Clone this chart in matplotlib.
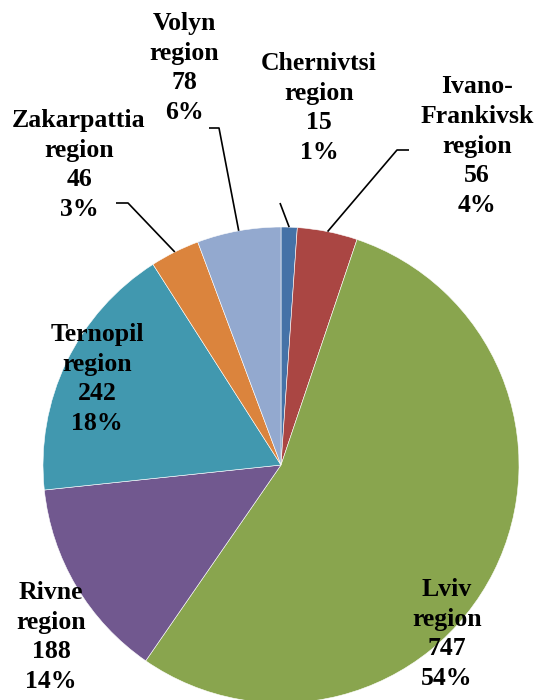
import numpy as np
import matplotlib
matplotlib.use("Agg")
import matplotlib.pyplot as plt

regions = ['Chernivtsi\nregion', 'Ivano-\nFrankivsk\nregion', 'Lviv\nregion',
           'Rivne\nregion', 'Ternopil\nregion', 'Zakarpattia\nregion', 'Volyn\nregion']
counts = [15, 56, 747, 188, 242, 46, 78]
colors = ['#4572A7', '#AA4643', '#89A54E', '#71588F', '#4198AF', '#DB843D', '#93A9CF']

# label layout in pixel space of the 537x700 picture (centre x, centre y, elbow or None)
CX, CY, R = 281, 465, 238
label_px = [
    (319, 108, None),
    (477, 146, [(409, 150), (397, 150)]),
    (447, 634, None),
    (51, 637, None),
    (97, 379, None),
    (79, 165, [(116, 203), (128, 203)]),
    (184, 68, [(209, 128), (219, 128)]),
]
# Chernivtsi leader starts just under its text
cher_start = (280, 203)


def px(x, y):
    return (x - CX) / R, (CY - y) / R


fig = plt.figure(figsize=(5.37, 7.00), dpi=100)
ax = fig.add_axes([0, 0, 1, 1])
wedges, _ = ax.pie(counts, colors=colors, startangle=90, counterclock=False,
                   radius=1.0, wedgeprops=dict(edgecolor='white', linewidth=0.4))
ax.set_aspect('auto')
ax.set_xlim(-CX / R, (537 - CX) / R)
ax.set_ylim(-(700 - CY) / R, CY / R)
ax.axis('off')

total = sum(counts)
for i, (w, name, n) in enumerate(zip(wedges, regions, counts)):
    lx, ly, elbow = label_px[i]
    pct = round(100 * n / total)
    ax.text(*px(lx, ly), f'{name}\n{n}\n{pct}%', ha='center', va='center',
            multialignment='center', family='Liberation Serif', weight='bold',
            fontsize=18.5, linespacing=1.37, color='black')
    mid = np.deg2rad((w.theta1 + w.theta2) / 2)
    end = (np.cos(mid), np.sin(mid))
    if elbow is not None:
        pts = [px(*p) for p in elbow] + [end]
    elif i == 0:
        pts = [px(*cher_start), end]
    else:
        continue
    xs, ys = zip(*pts)
    ax.plot(xs, ys, color='black', lw=1.2, solid_capstyle='butt')

fig.savefig('out.png', dpi=100, facecolor='white')
